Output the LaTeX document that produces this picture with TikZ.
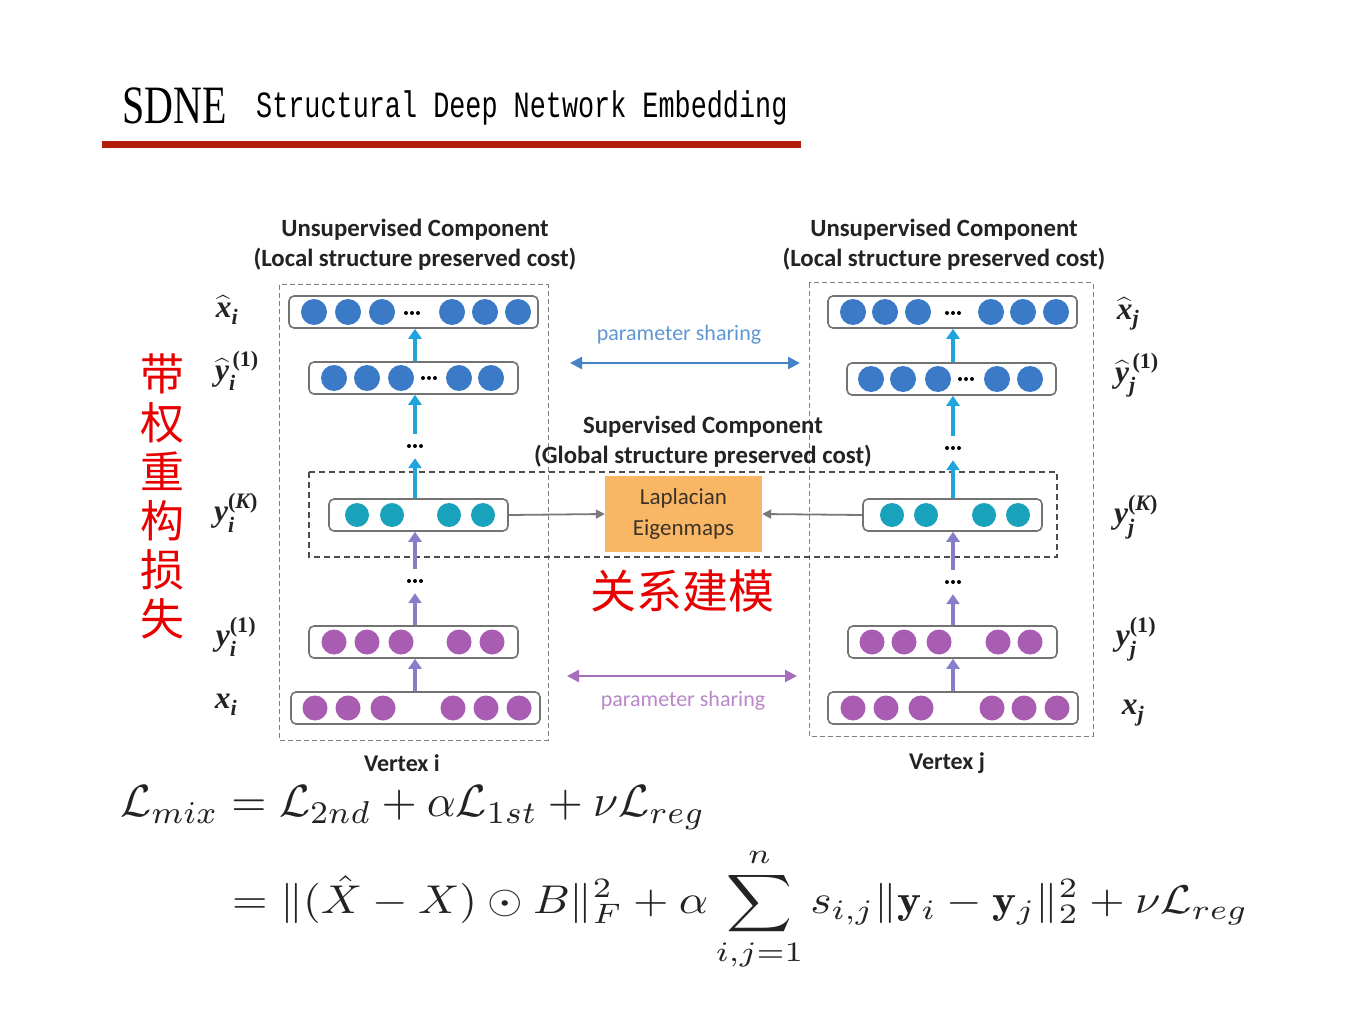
\documentclass[tikz,border=0pt]{standalone}
\usepackage{amsmath}
\usepackage{fontspec}
\setsansfont{Carlito}
\newfontfamily\cjk{Noto Sans CJK SC}
\newfontfamily\titleserif[FakeStretch=0.74]{Liberation Serif}
\newfontfamily\titlemono[FakeStretch=0.725]{Liberation Mono}
\newfontfamily\lblfont{Liberation Serif}
\usetikzlibrary{arrows.meta}

\definecolor{circblue}{RGB}{58,122,198}
\definecolor{circteal}{RGB}{24,162,188}
\definecolor{circpurple}{RGB}{168,92,178}
\definecolor{arrowblue}{RGB}{32,164,222}
\definecolor{arrowpurple}{RGB}{134,126,200}
\definecolor{boxgray}{RGB}{115,115,115}
\definecolor{psbluetext}{RGB}{95,150,210}
\definecolor{psbluearrow}{RGB}{70,130,200}
\definecolor{pspurpletext}{RGB}{185,135,200}
\definecolor{pspurplearrow}{RGB}{165,110,185}
\definecolor{laporange}{RGB}{249,183,102}
\definecolor{laptext}{RGB}{60,50,40}
\definecolor{grayarrow}{RGB}{120,120,120}
\definecolor{cjkred}{RGB}{232,0,0}
\definecolor{titlered}{RGB}{178,30,12}
\definecolor{darktext}{RGB}{35,35,35}

\newcommand{\mylayer}[7]{%
  \node[layerbox, minimum width={(#3)-(#2)}, minimum height=32] (#1) at ({((#2)+(#3))/2},#4) {};
  \foreach \cx in {#6} \fill[#5] (\cx,#4) circle (#7);
}
\newcommand{\mydots}[2]{\foreach \dd in {-6,0,6} \fill[black] ({#1+\dd},#2) circle (2pt);}
% bold italic / bold upright text pieces for the layer labels
\newcommand{\bi}[1]{\text{\lblfont\bfseries\itshape #1}}
\newcommand{\bu}[1]{\text{\lblfont\bfseries #1}}
\newcommand{\bhat}[1]{\widehat{\bi{#1}}}

\begin{document}
\begin{tikzpicture}[x=1pt,y=-1pt,
  layerbox/.style={draw=boxgray, line width=1.6pt, rounded corners=5pt, fill=white, inner sep=0pt},
  dotsnode/.style={minimum width=24pt, minimum height=24pt, inner sep=0pt,
    path picture={\foreach \dd in {-6,0,6} \fill[black] ([xshift=\dd pt]path picture bounding box.center) circle (2pt);}},
  barrow/.style={draw=arrowblue, line width=4pt, -{Triangle[width=13pt,length=10pt]}},
  parrow/.style={draw=arrowpurple, line width=4pt, -{Triangle[width=13pt,length=10pt]}},
  garrow/.style={draw=grayarrow, line width=1.8pt, -{Triangle[width=9pt,length=9pt]}},
  outerdash/.style={draw=gray, line width=1pt, dash pattern=on 5pt off 3pt},
  innerdash/.style={draw=black!70, line width=1.2pt, dash pattern=on 6pt off 4pt},
  hdr/.style={font=\sffamily\bfseries\fontsize{24.8}{30}\selectfont, text=darktext, align=center},
  vlab/.style={font=\sffamily\bfseries\fontsize{24}{28}\selectfont, text=darktext},
  mlab/.style={font=\fontsize{31.5}{34}\selectfont, text=darktext},
  pstext/.style={font=\sffamily\fontsize{22}{26}\selectfont},
  lapbox/.style={fill=laporange, draw=none, align=center, inner sep=0pt, text=laptext,
    font=\sffamily\fontsize{23}{31}\selectfont},
]
\useasboundingbox (0,0) rectangle (1365,1024);

% ---------- title ----------
\node[anchor=base west, inner sep=0pt] (t1) at (122,124) {\titleserif\fontsize{54}{54}\selectfont SDNE};
\node[anchor=base west, inner sep=0pt] (t2) at (256,118) {\titlemono\fontsize{37}{37}\selectfont Structural Deep Network Embedding};
\fill[titlered] (102,141) rectangle (801,148);

% ---------- dashed frames ----------
\draw[outerdash] (279,285) rectangle (548,740);
\draw[outerdash] (809,283) rectangle (1093,736);
\draw[innerdash] (309,472) rectangle (1057,557);

% ---------- headers ----------
\node[hdr] (hl) at (415,245) {Unsupervised Component\\(Local structure preserved cost)};
\node[hdr] (hr) at (944,245) {Unsupervised Component\\(Local structure preserved cost)};
\node[hdr] (hs) at (703,442) {Supervised Component\\(Global structure preserved cost)};

% ---------- left column ----------
\mylayer{lxh}{289}{538}{312}{circblue}{314,348,382,452,485,518}{13pt}
\mydots{412}{313}
\mylayer{lyh}{309}{518}{378}{circblue}{334,367,401,459,491}{13pt}
\mydots{429}{378}
\node[dotsnode] (ld1) at (415,446) {};
\mylayer{lyK}{329}{508}{515}{circteal}{357,392,449,483}{12pt}
\node[dotsnode] (ld2) at (415,581) {};
\mylayer{ly1}{309}{518}{642}{circpurple}{334,367,401,459,492}{12.5pt}
\mylayer{lx}{291}{540}{708}{circpurple}{315,348,383,453,486,519}{12.5pt}

\draw[barrow] (lyh.north -| ld1) -- (lxh.south -| ld1);
\draw[barrow] (ld1.north) -- (lyh.south -| ld1);
\draw[barrow] (lyK.north -| ld1) -- (ld1.south);
\draw[parrow] (ld2.north) -- (lyK.south -| ld2);
\draw[parrow] (ly1.north -| ld2) -- (ld2.south);
\draw[parrow] (lx.north -| ld2) -- (ly1.south -| ld2);

% ---------- right column ----------
\mylayer{rxh}{828}{1077}{312}{circblue}{853,885,918,991,1023,1056}{13pt}
\mydots{953}{313}
\mylayer{ryh}{847}{1056}{379}{circblue}{871,903,938,997,1030}{13pt}
\mydots{966}{379}
\node[dotsnode] (rd1) at (953,448) {};
\mylayer{ryK}{863}{1042}{515}{circteal}{892,926,984,1018}{12pt}
\node[dotsnode] (rd2) at (953,582) {};
\mylayer{ry1}{848}{1057}{642}{circpurple}{872,904,939,998,1030}{12.5pt}
\mylayer{rx}{828}{1078}{708}{circpurple}{853,886,921,992,1024,1057}{12.5pt}

\draw[barrow] (ryh.north -| rd1) -- (rxh.south -| rd1);
\draw[barrow] (rd1.north) -- (ryh.south -| rd1);
\draw[barrow] (ryK.north -| rd1) -- (rd1.south);
\draw[parrow] (rd2.north) -- (ryK.south -| rd2);
\draw[parrow] (ry1.north -| rd2) -- (rd2.south);
\draw[parrow] (rx.north -| rd2) -- (ry1.south -| rd2);

% ---------- math labels ----------
\node[mlab] (lbxhi) at (227,310) {$\bhat{x}_{\bi{i}}$};
\node[mlab] (lbyhi) at (237,371) {${\bhat{y}_{\bi{i}}}^{\,\bu{(1)}}$};
\node[mlab] (lbyKi) at (236,513) {$\bi{y}_{\bi{i}}^{\bu{(}\bi{K}\bu{)}}$};
\node[mlab] (lby1i) at (236,637) {$\bi{y}_{\bi{i}}^{\bu{(1)}}$};
\node[mlab] (lbxi) at (226,705) {$\bi{x}_{\bi{i}}$};
\node[mlab] (lbxhj) at (1128,314) {$\bhat{x}_{\bi{j}}$};
\node[mlab] (lbyhj) at (1137,375) {${\bhat{y}_{\bi{j}}}^{\,\bu{(1)}}$};
\node[mlab] (lbyKj) at (1136,517) {$\bi{y}_{\bi{j}}^{\bu{(}\bi{K}\bu{)}}$};
\node[mlab] (lby1j) at (1136,639) {$\bi{y}_{\bi{j}}^{\bu{(1)}}$};
\node[mlab] (lbxj) at (1133,713) {$\bi{x}_{\bi{j}}$};

% ---------- Laplacian ----------
\node[lapbox, minimum width=157pt, minimum height=76pt] (lap) at (683.5,514) {Laplacian\\Eigenmaps};
\draw[garrow] (lyK.east) -- (lap.west);
\draw[garrow] (ryK.west) -- (lap.east);

% ---------- parameter sharing ----------
\coordinate (psbL) at (570,363);
\coordinate (psbR) at (800,363);
\draw[draw=psbluearrow, line width=2.5pt, {Triangle[width=12pt,length=12pt]}-{Triangle[width=12pt,length=12pt]}] (psbL) -- (psbR);
\node[pstext, text=psbluetext] (pst1) at (679,335) {parameter sharing};
\coordinate (pspL) at (567,676);
\coordinate (pspR) at (797,676);
\draw[draw=pspurplearrow, line width=2.5pt, {Triangle[width=12pt,length=12pt]}-{Triangle[width=12pt,length=12pt]}] (pspL) -- (pspR);
\node[pstext, text=pspurpletext] (pst2) at (683,701) {parameter sharing};

% ---------- vertex labels ----------
\node[vlab] (vi) at (402,763) {Vertex i};
\node[vlab] (vj) at (947,763) {Vertex j};

% ---------- Chinese annotations ----------
\node[align=center, text=cjkred, font=\cjk\fontsize{44}{49}\selectfont, inner sep=0pt] (wrl) at (162,496) {带\\权\\重\\构\\损\\失};
\node[text=cjkred, font=\cjk\fontsize{46}{50}\selectfont, inner sep=0pt] (rel) at (682,591) {关系建模};

% ---------- formulas ----------
\node[anchor=west, inner sep=0pt, text=darktext] (f1) at (120,808)
  {\resizebox{585pt}{!}{$\mathcal{L}_{mix} = \mathcal{L}_{2nd} + \alpha\mathcal{L}_{1st} + \nu\mathcal{L}_{reg}$}};
\node[anchor=west, inner sep=0pt, text=darktext] (f2) at (232,909)
  {\scalebox{1}[0.88]{\resizebox{1016pt}{!}{$\displaystyle = \|(\hat{X} - X)\odot B\|_F^2 + \alpha \sum_{i,j=1}^{n} s_{i,j}\|\mathbf{y}_i - \mathbf{y}_j\|_2^2 + \nu\mathcal{L}_{reg}$}}};
\end{tikzpicture}
\end{document}
